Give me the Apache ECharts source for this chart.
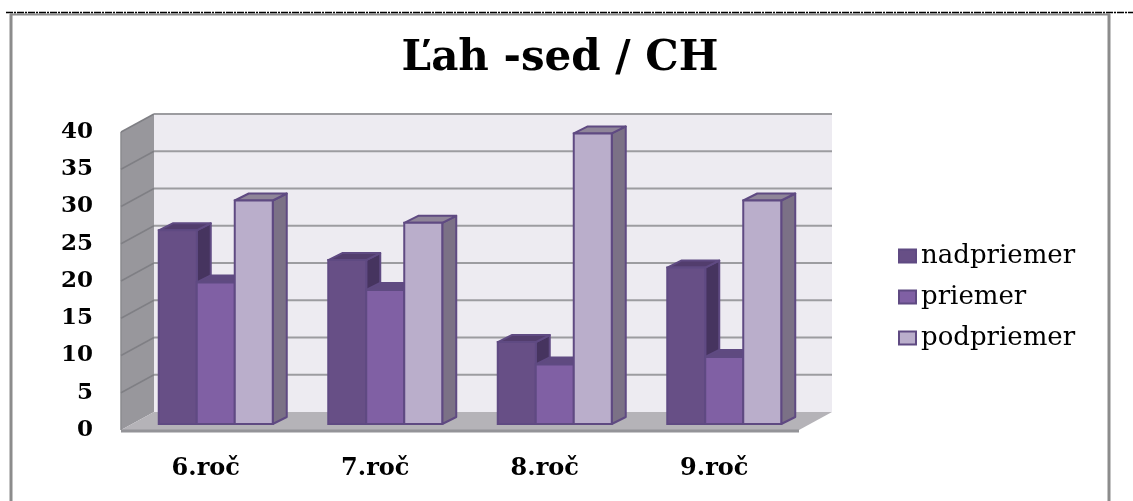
<!DOCTYPE html>
<html>
<head>
<meta charset="utf-8">
<title>Ľah -sed / CH</title>
<script src="https://cdn.jsdelivr.net/npm/echarts@6/dist/echarts.min.js"></script>
<style>
  html, body { margin: 0; padding: 0; background: #fff; }
  #main { width: 1133px; height: 501px; }
</style>
</head>
<body>
<div id="main"></div>
<script>
const categories = ['6.roč', '7.roč', '8.roč', '9.roč']
const nadpriemer = [26, 22, 11, 21]
const priemer = [19, 18, 8, 9]
const podpriemer = [30, 27, 39, 30]
const gridTicks = [5, 10, 15, 20, 25, 30, 35, 40]

// wall depth of the fake 3d room and of the bars
const roomDx = 33
const roomDy = -18
const barDx = 14
const barDy = -7
const barOffsetX = 10
const barOffsetY = -6
const barShare = 38 / 169.5

const chart = echarts.init(document.getElementById('main'))

function poly(points, fill, stroke, width) {
  return {
    type: 'polygon',
    shape: { points: points },
    style: { fill: fill, stroke: stroke || null, lineWidth: width || 0, lineJoin: 'round' }
  }
}

function renderRoom(params, api) {
  const r = params.coordSys
  const x0 = r.x
  const x1 = r.x + r.width
  const top = r.y
  const bottom = r.y + r.height
  return {
    type: 'group',
    children: [
      poly([[x0 + roomDx, top + roomDy], [x1 + roomDx, top + roomDy], [x1 + roomDx, bottom + roomDy], [x0 + roomDx, bottom + roomDy]], '#edebf1'),
      poly([[x0, top], [x0 + roomDx, top + roomDy], [x0 + roomDx, bottom + roomDy], [x0, bottom]], '#98979c'),
      poly([[x0, bottom], [x0 + roomDx, bottom + roomDy], [x1 + roomDx, bottom + roomDy], [x1, bottom]], '#b5b3b8'),
      {
        type: 'line',
        shape: { x1: x0, y1: bottom + 1, x2: x1, y2: bottom + 1 },
        style: { stroke: '#949498', lineWidth: 3 }
      },
      {
        type: 'line',
        shape: { x1: x0, y1: top, x2: x0, y2: bottom },
        style: { stroke: '#8b8b8f', lineWidth: 1.5 }
      }
    ]
  }
}

function renderGridLine(params, api) {
  const r = params.coordSys
  const y = api.coord([0, api.value(1)])[1]
  return {
    type: 'group',
    children: [
      {
        type: 'polyline',
        shape: { points: [[r.x, y], [r.x + roomDx, y + roomDy]] },
        style: { fill: null, stroke: '#7f7f84', lineWidth: 1.5 }
      },
      {
        type: 'line',
        shape: { x1: r.x + roomDx, y1: y + roomDy, x2: r.x + r.width + roomDx, y2: y + roomDy },
        style: { stroke: '#9c9ca0', lineWidth: 2 }
      }
    ]
  }
}

function makeBarRenderer(seriesIndex, top, side) {
  return function (params, api) {
    const band = api.size([1, 0])[0]
    const w = band * barShare
    const base = api.coord([api.value(0), 0])
    const head = api.coord([api.value(0), api.value(1)])
    const x = base[0] + barOffsetX - 1.5 * w + seriesIndex * w
    const y0 = base[1] + barOffsetY
    const y1 = head[1] + barOffsetY
    const line = '#5f4a82'
    return {
      type: 'group',
      children: [
        poly([[x + w, y1], [x + w + barDx, y1 + barDy], [x + w + barDx, y0 + barDy], [x + w, y0]], side, line, 2),
        poly([[x, y1], [x + barDx, y1 + barDy], [x + w + barDx, y1 + barDy], [x + w, y1]], top, line, 2),
        {
          type: 'rect',
          shape: { x: x, y: y1, width: w, height: y0 - y1 },
          style: { fill: api.visual('color'), stroke: line, lineWidth: 2 }
        }
      ]
    }
  }
}

function barSeries(name, values, index, front, top, side) {
  return {
    name: name,
    type: 'custom',
    renderItem: makeBarRenderer(index, top, side),
    itemStyle: { color: front, borderColor: '#5f4a82', borderWidth: 2 },
    encode: { x: 0, y: 1 },
    data: values.map((v, i) => [i, v]),
    z: 5 + index
  }
}

chart.setOption({
  animation: false,
  backgroundColor: '#fff',
  title: {
    text: 'Ľah -sed / CH',
    left: 555,
    top: 33,
    textAlign: 'center',
    textStyle: { fontFamily: 'DejaVu Serif', fontWeight: 'bold', fontSize: 42, color: '#000' }
  },
  legend: {
    orient: 'vertical',
    left: 893,
    top: 238,
    itemWidth: 17,
    itemHeight: 13,
    itemGap: 15,
    icon: 'rect',
    data: ['nadpriemer', 'priemer', 'podpriemer'],
    textStyle: { fontFamily: 'DejaVu Serif', fontSize: 26, color: '#000' }
  },
  grid: { left: 121, right: 334, top: 132, bottom: 71 },
  xAxis: {
    type: 'category',
    data: categories,
    axisLine: { show: false },
    axisTick: { show: false },
    axisLabel: {
      margin: 27,
      color: '#000',
      fontFamily: 'DejaVu Serif',
      fontWeight: 'bold',
      fontSize: 24
    }
  },
  yAxis: {
    type: 'value',
    min: 0,
    max: 40,
    interval: 5,
    splitLine: { show: false },
    axisLine: { show: false },
    axisTick: { show: false },
    axisLabel: {
      margin: 28,
      color: '#000',
      fontFamily: 'DejaVu Serif',
      fontWeight: 'bold',
      fontSize: 23
    }
  },
  series: [
    { name: 'room', type: 'custom', renderItem: renderRoom, encode: { x: 0, y: 1 }, data: [[0, 0]], z: 1, silent: true },
    { name: 'lines', type: 'custom', renderItem: renderGridLine, encode: { x: 0, y: 1 }, data: gridTicks.map(t => [0, t]), z: 2, silent: true },
    barSeries('nadpriemer', nadpriemer, 0, '#674f86', '#523d6d', '#46345f'),
    barSeries('priemer', priemer, 1, '#8060a4', '#5f4a80', '#4e3a6c'),
    barSeries('podpriemer', podpriemer, 2, '#baaecb', '#8f8599', '#7b7186')
  ],
  graphic: [
    { type: 'line', shape: { x1: 11, y1: 14, x2: 11, y2: 501 }, style: { stroke: '#8c8c8c', lineWidth: 3 }, z: 20 },
    { type: 'line', shape: { x1: 1109, y1: 14, x2: 1109, y2: 501 }, style: { stroke: '#8c8c8c', lineWidth: 3 }, z: 20 },
    { type: 'line', shape: { x1: 10, y1: 14.5, x2: 1110, y2: 14.5 }, style: { stroke: '#8c8c8c', lineWidth: 2 }, z: 20 },
    { type: 'line', shape: { x1: 6, y1: 12.5, x2: 1133, y2: 12.5 }, style: { stroke: '#000', lineWidth: 1.5, lineDash: [7, 1, 2, 1] }, z: 21 }
  ]
})
</script>
</body>
</html>
